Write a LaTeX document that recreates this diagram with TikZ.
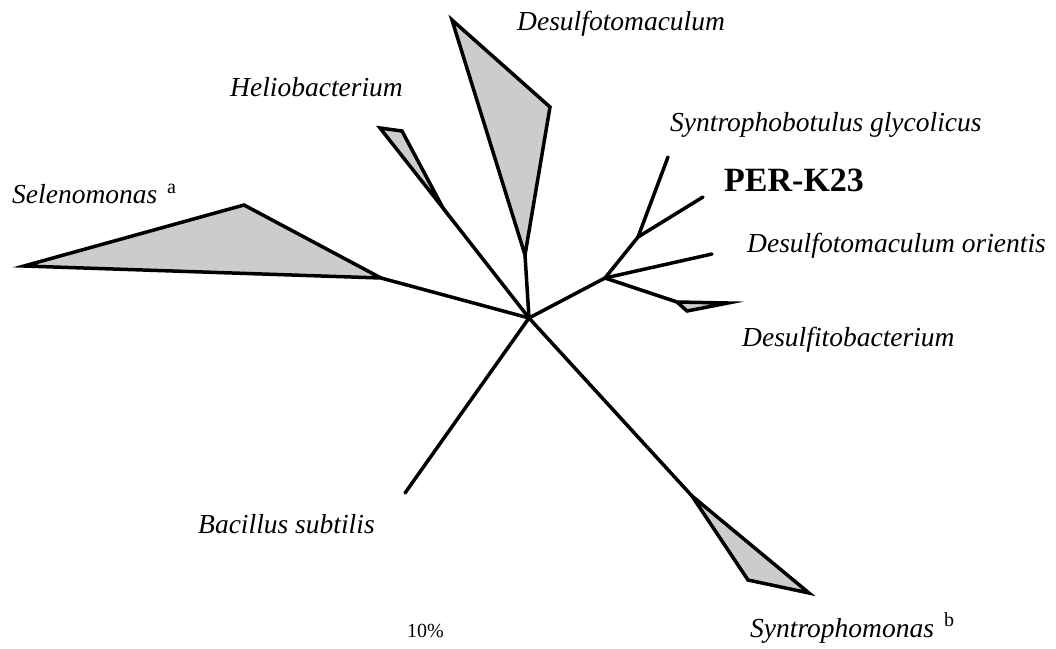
\documentclass[tikz,border=0pt]{standalone}
\usepackage{fontspec}
\setmainfont{Liberation Serif}
\begin{document}
\begin{tikzpicture}[x=1pt,y=-1pt,
  br/.style={line width=3.5pt, line cap=round, line join=round},
  clade/.style={draw, line width=3.5pt, line join=miter, miter limit=12, fill=black!20},
  lab/.style={font=\fontsize{27.5}{32}\selectfont\itshape, anchor=base west, inner sep=0pt},
  sup/.style={font=\fontsize{20}{24}\selectfont, anchor=base west, inner sep=0pt}]
\useasboundingbox (0,0) rectangle (1056,648);
% tree nodes
\coordinate (C) at (529,318);
\coordinate (sel) at (381,278);
\coordinate (hel) at (443,208);
\coordinate (des) at (525,255);
\coordinate (A) at (605,278);
\coordinate (B) at (638,237);
\coordinate (syg) at (668,157);
\coordinate (per) at (703,197);
\coordinate (dor) at (712,254);
\coordinate (dfb) at (677,302);
\coordinate (bac) at (405,493);
\coordinate (syn) at (692,496);
% branches
\draw[br] (C) -- (sel);
\draw[br] (C) -- (hel);
\draw[br] (C) -- (des);
\draw[br] (C) -- (A);
\draw[br] (A) -- (B);
\draw[br] (B) -- (syg);
\draw[br] (B) -- (per);
\draw[br] (A) -- (dor);
\draw[br] (A) -- (dfb);
\draw[br] (C) -- (bac);
\draw[br] (C) -- (syn);
% collapsed clades
\filldraw[clade] (sel) -- (244,205) -- (24,266) -- cycle;
\filldraw[clade] (hel) -- (402,131) -- (380,128) -- cycle;
\filldraw[clade] (des) -- (452,20) -- (550,107) -- cycle;
\filldraw[clade] (dfb) -- (728,303) -- (687,311) -- cycle;
\filldraw[clade] (syn) -- (748,580) -- (809,593) -- cycle;
% labels
\node[lab] (lDes) at (517,30) {Desulfotomaculum};
\node[lab] (lHel) at (230,96) {Heliobacterium};
\node[lab] (lSyg) at (670,131) {Syntrophobotulus glycolicus};
\node[font=\fontsize{34}{40}\selectfont\bfseries, anchor=base west, inner sep=0pt] (lPer) at (724,191) {PER-K23};
\node[lab] (lDor) at (747,252) {Desulfotomaculum orientis};
\node[lab] (lDfb) at (742,346) {Desulfitobacterium};
\node[lab] (lSel) at (12,203) {Selenomonas};
\node[sup] (lSelA) at (167,193) {a};
\node[lab] (lBac) at (198,533) {Bacillus subtilis};
\node[font=\fontsize{20}{24}\selectfont, anchor=base west, inner sep=0pt] (lTen) at (407,637) {10\%};
\node[lab] (lSyn) at (750,637) {Syntrophomonas};
\node[sup] (lSynB) at (944,626) {b};
\end{tikzpicture}
\end{document}
